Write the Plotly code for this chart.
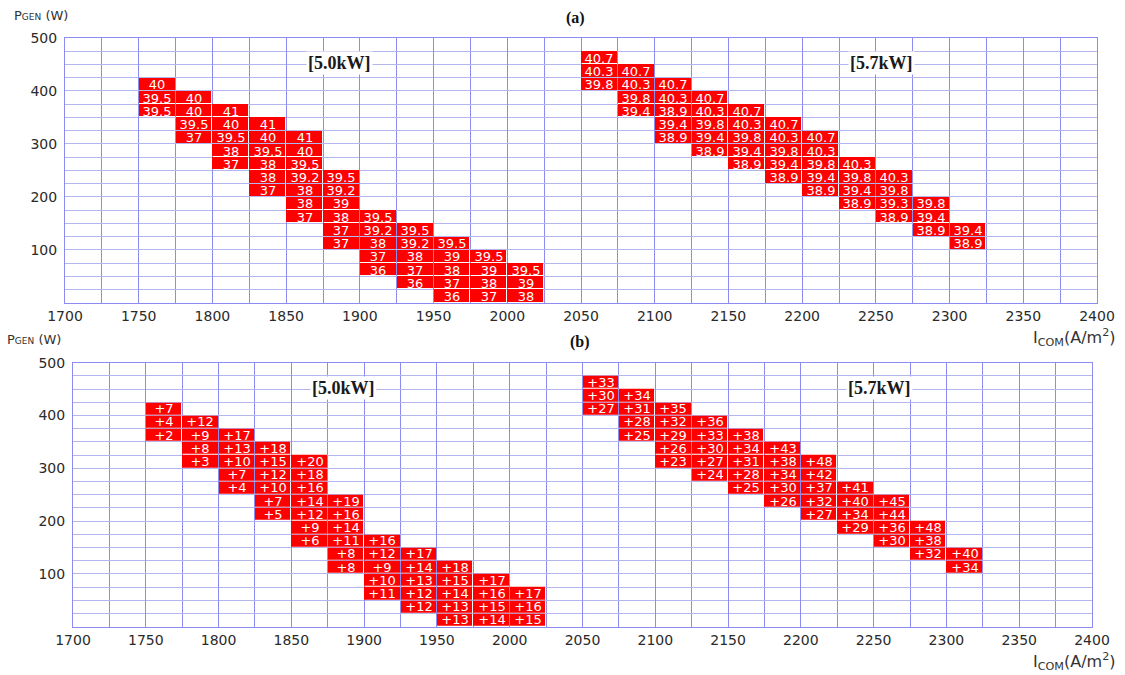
import plotly.graph_objects as go

# ---------------- data ----------------
icom_ticks = list(range(1700, 2401, 50))          # I_COM axis tick labels (A/m2)
pgen_ticks = [100, 200, 300, 400, 500]             # P_GEN axis tick labels (W)
icom_bin = 25
pgen_bin = 25

# 5.0 kW region: lower-left corner of each cell (I_COM, P_GEN)
icom_50 = [1750]*3 + [1775]*4 + [1800]*5 + [1825]*6 + [1850]*7 + [1875]*6 + \
          [1900]*5 + [1925]*5 + [1950]*5 + [1975]*4 + [2000]*3
pgen_50 = [400, 375, 350,
           375, 350, 325, 300,
           350, 325, 300, 275, 250,
           325, 300, 275, 250, 225, 200,
           300, 275, 250, 225, 200, 175, 150,
           225, 200, 175, 150, 125, 100,
           150, 125, 100, 75, 50,
           125, 100, 75, 50, 25,
           100, 75, 50, 25, 0,
           75, 50, 25, 0,
           50, 25, 0]
eff_50 = [40, 39.5, 39.5,
          40, 40, 39.5, 37,
          41, 40, 39.5, 38, 37,
          41, 40, 39.5, 38, 38, 37,
          41, 40, 39.5, 39.2, 38, 38, 37,
          39.5, 39.2, 39, 38, 37, 37,
          39.5, 39.2, 38, 37, 36,
          39.5, 39.2, 38, 37, 36,
          39.5, 39, 38, 37, 36,
          39.5, 39, 38, 37,
          39.5, 39, 38]
gain_50 = [7, 4, 2,
           12, 9, 8, 3,
           17, 13, 10, 7, 4,
           18, 15, 12, 10, 7, 5,
           20, 18, 16, 14, 12, 9, 6,
           19, 16, 14, 11, 8, 8,
           16, 12, 9, 10, 11,
           17, 14, 13, 12, 12,
           18, 15, 14, 13, 13,
           17, 16, 15, 14,
           17, 16, 15]

# 5.7 kW region
icom_57 = [2050]*3 + [2075]*4 + [2100]*5 + [2125]*5 + [2150]*5 + [2175]*5 + \
          [2200]*5 + [2225]*4 + [2250]*4 + [2275]*3 + [2300]*2
pgen_57 = [450, 425, 400,
           425, 400, 375, 350,
           400, 375, 350, 325, 300,
           375, 350, 325, 300, 275,
           350, 325, 300, 275, 250,
           325, 300, 275, 250, 225,
           300, 275, 250, 225, 200,
           250, 225, 200, 175,
           225, 200, 175, 150,
           175, 150, 125,
           125, 100]
eff_57 = [40.7, 40.3, 39.8,
          40.7, 40.3, 39.8, 39.4,
          40.7, 40.3, 38.9, 39.4, 38.9,
          40.7, 40.3, 39.8, 39.4, 38.9,
          40.7, 40.3, 39.8, 39.4, 38.9,
          40.7, 40.3, 39.8, 39.4, 38.9,
          40.7, 40.3, 39.8, 39.4, 38.9,
          40.3, 39.8, 39.4, 38.9,
          40.3, 39.8, 39.3, 38.9,
          39.8, 39.4, 38.9,
          39.4, 38.9]
gain_57 = [33, 30, 27,
           34, 31, 28, 25,
           35, 32, 29, 26, 23,
           36, 33, 30, 27, 24,
           38, 34, 31, 28, 25,
           43, 38, 34, 30, 26,
           48, 42, 37, 32, 27,
           41, 40, 34, 29,
           45, 44, 36, 30,
           48, 38, 32,
           40, 34]

# ---------------- build grids ----------------
x0, x1 = icom_ticks[0], icom_ticks[-1]
y0, y1 = 0, pgen_ticks[-1]
nx = (x1 - x0) // icom_bin
ny = (y1 - y0) // pgen_bin
xc = [x0 + icom_bin * (i + 0.5) for i in range(nx)]
yc = [y0 + pgen_bin * (j + 0.5) for j in range(ny)]


def make_grid(xs, ys, labels):
    z = [[None] * nx for _ in range(ny)]
    t = [[""] * nx for _ in range(ny)]
    for x, y, s in zip(xs, ys, labels):
        i = int((x - x0) // icom_bin)
        j = int((y - y0) // pgen_bin)
        z[j][i] = 1
        t[j][i] = s
    return z, t


lab_a = ["%g" % v for v in eff_50] + ["%g" % v for v in eff_57]
lab_b = ["+%d" % v for v in gain_50] + ["+%d" % v for v in gain_57]
za, ta = make_grid(icom_50 + icom_57, pgen_50 + pgen_57, lab_a)
zb, tb = make_grid(icom_50 + icom_57, pgen_50 + pgen_57, lab_b)

RED = "#ff0000"
VGRID = "#8c8cf0"
HGRID = "#b6b6ee"
CELL_FONT = dict(family="DejaVu Sans", size=13, color="white")

fig = go.Figure()
for z, t, xa, ya in [(za, ta, "x", "y"), (zb, tb, "x2", "y2")]:
    fig.add_trace(go.Heatmap(
        x=xc, y=yc, z=z, text=t, texttemplate="%{text}", textfont=CELL_FONT,
        colorscale=[[0, RED], [1, RED]], zmin=0, zmax=1, showscale=False,
        xgap=1, ygap=1, hoverinfo="skip", xaxis=xa, yaxis=ya))

tickfont = dict(family="DejaVu Sans", size=14, color="#2a2a2a")


def xaxis_cfg(domain, anchor):
    return dict(domain=domain, anchor=anchor, range=[x0, x1],
                tickvals=icom_ticks, ticktext=[str(v) for v in icom_ticks],
                showgrid=True, gridcolor=VGRID, gridwidth=1,
                minor=dict(tick0=x0, dtick=icom_bin, showgrid=True,
                           gridcolor=VGRID, gridwidth=1),
                showline=True, linecolor=VGRID, linewidth=1, mirror=True,
                zeroline=False, ticks="", tickfont=tickfont, fixedrange=True,
                automargin=False)


def yaxis_cfg(domain, anchor):
    return dict(domain=domain, anchor=anchor, range=[y0, y1],
                tickvals=pgen_ticks, ticktext=[str(v) for v in pgen_ticks],
                showgrid=True, gridcolor=HGRID, gridwidth=1,
                minor=dict(tick0=0, dtick=pgen_bin, showgrid=True,
                           gridcolor=HGRID, gridwidth=1),
                showline=True, linecolor=VGRID, linewidth=1, mirror=True,
                zeroline=False, ticks="", tickfont=tickfont,
                ticklabelstandoff=4, fixedrange=True, automargin=False)


annotations = []
serif_bold = dict(family="Liberation Serif", size=18, color="#1a1a1a")
for xa, ya in [("x", "y"), ("x2", "y2")]:
    annotations.append(dict(x=1886, y=452, xref=xa, yref=ya, text="<b>[5.0kW]</b>",
                            showarrow=False, font=serif_bold, bgcolor="white",
                            borderpad=1))
    annotations.append(dict(x=2254, y=452, xref=xa, yref=ya, text="<b>[5.7kW]</b>",
                            showarrow=False, font=serif_bold, bgcolor="white",
                            borderpad=1))

title_font = dict(family="Liberation Serif", size=16, color="#111")
annotations += [
    dict(x=575 / 1125, y=1 - 18 / 675, xref="paper", yref="paper", text="<b>(a)</b>",
         showarrow=False, font=title_font, yanchor="middle"),
    dict(x=580 / 1125, y=1 - 342 / 675, xref="paper", yref="paper", text="<b>(b)</b>",
         showarrow=False, font=title_font, yanchor="middle"),
]

plabel = "P<span style='font-size:9px'>GEN</span> (W)"
pfont = dict(family="DejaVu Sans", size=13, color="#333")
annotations += [
    dict(x=12 / 1125, y=1 - 15 / 675, xref="paper", yref="paper", text=plabel,
         showarrow=False, font=pfont, xanchor="left", yanchor="middle"),
    dict(x=5 / 1125, y=1 - 339 / 675, xref="paper", yref="paper", text=plabel,
         showarrow=False, font=pfont, xanchor="left", yanchor="middle"),
]

ilabel = "I<sub>COM</sub>(A/m<sup>2</sup>)"
ifont = dict(family="DejaVu Sans", size=16, color="#333")
annotations += [
    dict(x=1118 / 1125, y=1 - 337 / 675, xref="paper", yref="paper", text=ilabel,
         showarrow=False, font=ifont, xanchor="right", yanchor="middle"),
    dict(x=1118 / 1125, y=1 - 661 / 675, xref="paper", yref="paper", text=ilabel,
         showarrow=False, font=ifont, xanchor="right", yanchor="middle"),
]

fig.update_layout(
    width=1125, height=675, autosize=False,
    margin=dict(l=0, r=0, t=0, b=0, autoexpand=False),
    paper_bgcolor="white", plot_bgcolor="white",
    showlegend=False,
    xaxis=xaxis_cfg([65 / 1125, 1097 / 1125], "y"),
    yaxis=yaxis_cfg([1 - 302.7 / 675, 1 - 38 / 675], "x"),
    xaxis2=xaxis_cfg([73 / 1125, 1092 / 1125], "y2"),
    yaxis2=yaxis_cfg([1 - 626.7 / 675, 1 - 362.7 / 675], "x2"),
    annotations=annotations,
)

fig.write_html("out.html")
